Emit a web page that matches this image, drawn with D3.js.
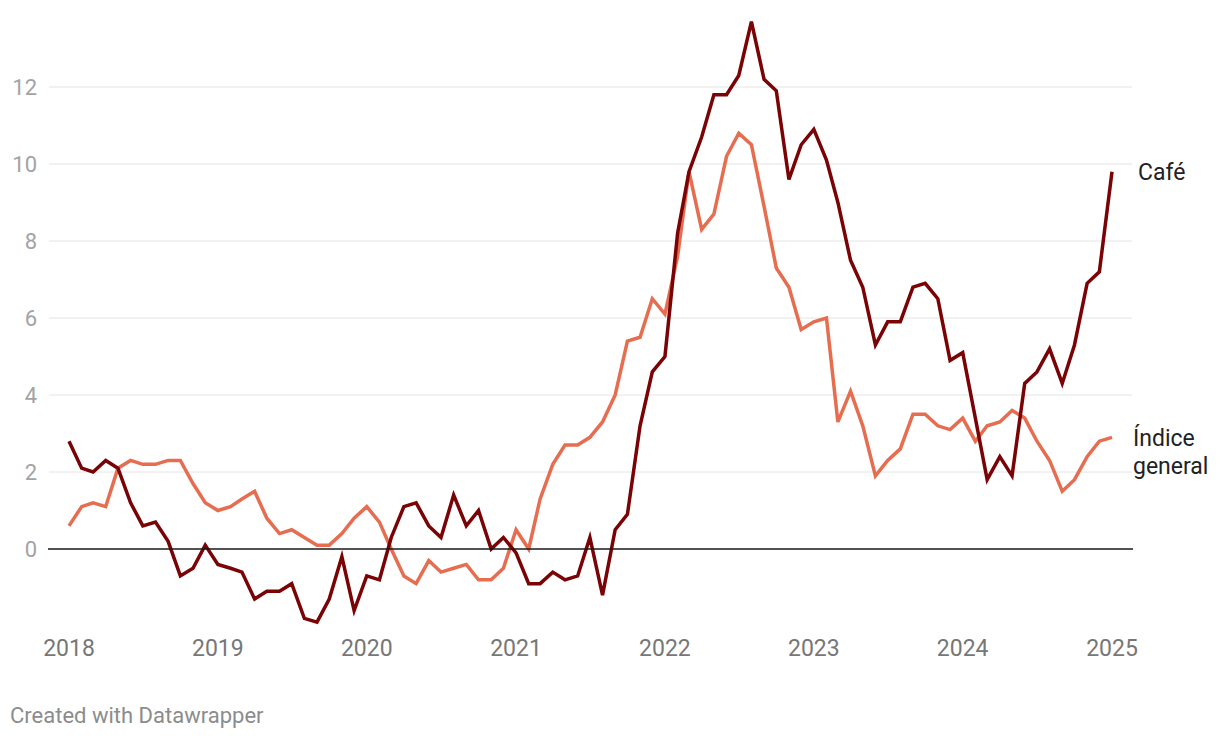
<!DOCTYPE html>
<html>
<head>
<meta charset="utf-8">
<script src="https://cdn.jsdelivr.net/npm/d3@7"></script>
<style>
  html, body { margin: 0; padding: 0; background: #fff; }
  #stage { width: 1220px; height: 738px; }
  text { font-family: Roboto, "Noto Sans", sans-serif; }
</style>
</head>
<body>
<div id="stage"></div>
<script>
// monthly year-on-year change, Jan 2018 – Jan 2025
const startMonth = "2018-01";
const cafe = [
  2.8, 2.1, 2.0, 2.3, 2.1, 1.2, 0.6, 0.7, 0.2, -0.7, -0.5, 0.1,
  -0.4, -0.5, -0.6, -1.3, -1.1, -1.1, -0.9, -1.8, -1.9, -1.3, -0.2, -1.6,
  -0.7, -0.8, 0.3, 1.1, 1.2, 0.6, 0.3, 1.4, 0.6, 1.0, 0.0, 0.3,
  -0.1, -0.9, -0.9, -0.6, -0.8, -0.7, 0.3, -1.2, 0.5, 0.9, 3.2, 4.6,
  5.0, 8.2, 9.8, 10.7, 11.8, 11.8, 12.3, 13.7, 12.2, 11.9, 9.6, 10.5,
  10.9, 10.1, 9.0, 7.5, 6.8, 5.3, 5.9, 5.9, 6.8, 6.9, 6.5, 4.9,
  5.1, 3.4, 1.8, 2.4, 1.9, 4.3, 4.6, 5.2, 4.3, 5.3, 6.9, 7.2,
  9.8
];
const indice = [
  0.6, 1.1, 1.2, 1.1, 2.1, 2.3, 2.2, 2.2, 2.3, 2.3, 1.7, 1.2,
  1.0, 1.1, 1.3, 1.5, 0.8, 0.4, 0.5, 0.3, 0.1, 0.1, 0.4, 0.8,
  1.1, 0.7, 0.0, -0.7, -0.9, -0.3, -0.6, -0.5, -0.4, -0.8, -0.8, -0.5,
  0.5, 0.0, 1.3, 2.2, 2.7, 2.7, 2.9, 3.3, 4.0, 5.4, 5.5, 6.5,
  6.1, 7.6, 9.8, 8.3, 8.7, 10.2, 10.8, 10.5, 8.9, 7.3, 6.8, 5.7,
  5.9, 6.0, 3.3, 4.1, 3.2, 1.9, 2.3, 2.6, 3.5, 3.5, 3.2, 3.1,
  3.4, 2.8, 3.2, 3.3, 3.6, 3.4, 2.8, 2.3, 1.5, 1.8, 2.4, 2.8,
  2.9
];
const yTicks = [0, 2, 4, 6, 8, 10, 12];
const xTicks = [2018, 2019, 2020, 2021, 2022, 2023, 2024, 2025];
const seriesNames = ["Café", "Índice general"];
const seriesColors = ["#7a0306", "#e66d50"];

const stage = d3.select("#stage");
const width = 1220;
const height = 738;

const svg = stage
  .append("svg")
  .attr("width", width)
  .attr("height", height)
  .attr("viewBox", `0 0 ${width} ${height}`);

const t0 = d3.timeParse("%Y-%m")(startMonth);
const dates = cafe.map((d, i) => d3.timeMonth.offset(t0, i));

const x = d3
  .scaleTime()
  .domain([new Date(2018, 0, 1), new Date(2025, 0, 1)])
  .range([69, 1112]);

const y = d3.scaleLinear().domain([0, 12]).range([549, 87]);

const gridLeft = 49;
const gridRight = 1132;

// grid
svg
  .append("g")
  .selectAll("line")
  .data(yTicks.filter((d) => d !== 0))
  .join("line")
  .attr("x1", gridLeft)
  .attr("x2", gridRight)
  .attr("y1", (d) => y(d))
  .attr("y2", (d) => y(d))
  .attr("stroke", "#e4e4e4")
  .attr("stroke-width", 1);

svg
  .append("g")
  .selectAll("text")
  .data(yTicks)
  .join("text")
  .attr("x", 37)
  .attr("y", (d) => y(d))
  .attr("dy", "0.35em")
  .attr("text-anchor", "end")
  .attr("font-size", "22px")
  .attr("fill", "#a3a3a3")
  .text((d) => d);

svg
  .append("g")
  .selectAll("text")
  .data(xTicks)
  .join("text")
  .attr("x", (d) => x(new Date(d, 0, 1)))
  .attr("y", 648)
  .attr("dy", "0.35em")
  .attr("text-anchor", "middle")
  .attr("font-size", "23px")
  .attr("fill", "#777")
  .text((d) => d);

// lines
const line = d3
  .line()
  .x((d, i) => x(dates[i]))
  .y((d) => y(d));

[indice, cafe].forEach((vals, k) => {
  const idx = k === 0 ? 1 : 0;
  svg
    .append("path")
    .datum(vals)
    .attr("fill", "none")
    .attr("stroke", seriesColors[idx])
    .attr("stroke-width", 3.5)
    .attr("stroke-linejoin", "miter")
    .attr("d", line);
});

// zero baseline
svg
  .append("line")
  .attr("x1", gridLeft - 1)
  .attr("x2", gridRight + 1)
  .attr("y1", y(0))
  .attr("y2", y(0))
  .attr("stroke", "#1a1a1a")
  .attr("stroke-width", 1.5);

// direct labels
svg
  .append("text")
  .attr("x", 1138)
  .attr("y", y(cafe[cafe.length - 1]))
  .attr("dy", "0.35em")
  .attr("font-size", "23px")
  .attr("fill", "#222")
  .text(seriesNames[0]);

const lab = svg
  .append("text")
  .attr("x", 1133)
  .attr("y", 438)
  .attr("dy", "0.35em")
  .attr("font-size", "23px")
  .attr("fill", "#222");
lab.append("tspan").attr("x", 1133).text(seriesNames[1].split(" ")[0]);
lab.append("tspan").attr("x", 1133).attr("dy", "1.2em").text(seriesNames[1].split(" ")[1]);

svg
  .append("text")
  .attr("x", 10)
  .attr("y", 715)
  .attr("dy", "0.35em")
  .attr("font-size", "22px")
  .attr("fill", "#8c8c8c")
  .text("Created with Datawrapper");
</script>
</body>
</html>
